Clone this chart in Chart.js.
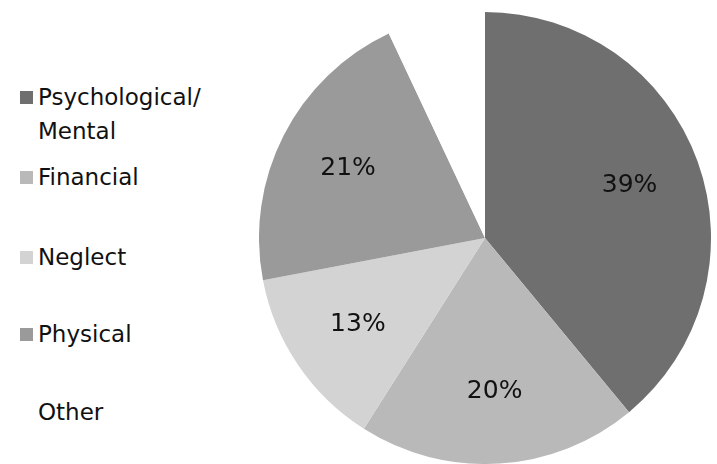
<!DOCTYPE html>
<html>
<head>
<meta charset="utf-8">
<script src="https://cdn.jsdelivr.net/npm/chart.js@4/dist/chart.umd.min.js"></script>
<style>
  body { margin: 0; background: #fff; width: 717px; height: 464px; overflow: hidden; position: relative; font-family: "DejaVu Sans", sans-serif; }
  #pieBox { position: absolute; left: 259px; top: 12px; width: 452px; height: 452px; }
  .legend-item { position: absolute; left: 20px; font-size: 23px; color: #111; line-height: 34px; }
  .legend-item .sw { position: absolute; left: 0; top: 11px; width: 13px; height: 13px; }
  .legend-item .txt { margin-left: 18px; white-space: pre; }
</style>
</head>
<body>
<div id="legend"></div>
<div id="pieBox"><canvas id="pie"></canvas></div>
<script>
const labels = ['Psychological/\nMental', 'Financial', 'Neglect', 'Physical', 'Other'];
const values = [39, 20, 13, 21, 7];
const colors = ['#6f6f6f', '#b9b9b9', '#d3d3d3', '#9a9a9a', '#ffffff'];
const legendTops = [80, 160, 240, 317, 395];

const legend = document.querySelector('#legend');
labels.forEach((label, i) => {
  const item = document.createElement('div');
  item.className = 'legend-item';
  item.style.top = legendTops[i] + 'px';
  const sw = document.createElement('span');
  sw.className = 'sw';
  sw.style.background = colors[i];
  const txt = document.createElement('div');
  txt.className = 'txt';
  txt.textContent = label;
  item.appendChild(sw);
  item.appendChild(txt);
  legend.appendChild(item);
});

// percentage labels inside the slices (no datalabels plugin offline)
const sliceLabels = {
  id: 'sliceLabels',
  afterDatasetsDraw(chart) {
    const { ctx } = chart;
    const meta = chart.getDatasetMeta(0);
    ctx.save();
    ctx.font = '25px "DejaVu Sans", sans-serif';
    ctx.fillStyle = '#111';
    ctx.textAlign = 'center';
    ctx.textBaseline = 'middle';
    meta.data.forEach((arc, i) => {
      if (values[i] < 10) return;
      const mid = (arc.startAngle + arc.endAngle) / 2;
      const r = arc.outerRadius * 0.68;
      ctx.fillText(values[i] + '%', arc.x + Math.cos(mid) * r, arc.y + Math.sin(mid) * r);
    });
    ctx.restore();
  }
};

const ctx = document.querySelector('#pie').getContext('2d');
new Chart(ctx, {
  type: 'pie',
  data: {
    labels,
    datasets: [{
      data: values,
      backgroundColor: colors,
      borderWidth: 0
    }]
  },
  options: {
    responsive: true,
    maintainAspectRatio: false,
    animation: false,
    layout: { padding: 0 },
    plugins: {
      legend: { display: false },
      tooltip: { enabled: false }
    }
  },
  plugins: [sliceLabels]
});
</script>
</body>
</html>
